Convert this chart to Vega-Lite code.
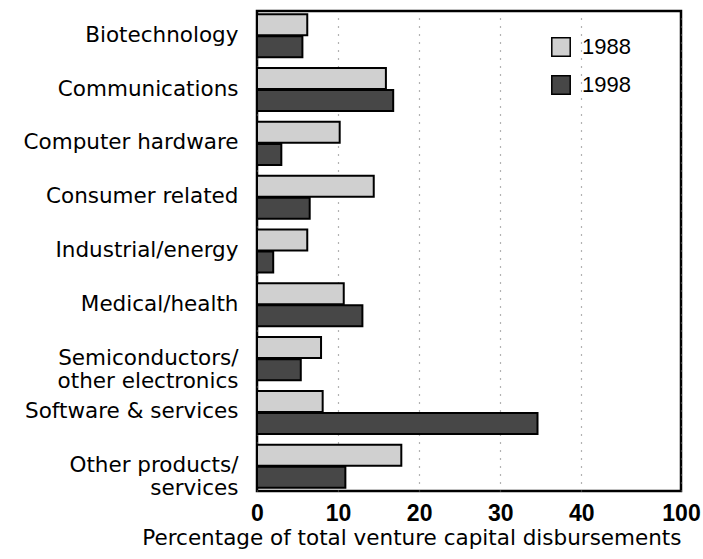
{
  "$schema": "https://vega.github.io/schema/vega-lite/v6.json",
  "width": 424,
  "height": 480,
  "padding": {"left": 23, "top": 11, "right": 2, "bottom": 5},
  "background": "white",
  "config": {
    "font": "DejaVu Sans",
    "view": {"stroke": "black", "strokeWidth": 2.5}
  },
  "data": {
    "values": [
      {"category": "Biotechnology", "year": "1988", "value": 6.2},
      {"category": "Biotechnology", "year": "1998", "value": 5.6},
      {"category": "Communications", "year": "1988", "value": 15.9},
      {"category": "Communications", "year": "1998", "value": 16.8},
      {"category": "Computer hardware", "year": "1988", "value": 10.2},
      {"category": "Computer hardware", "year": "1998", "value": 3.0},
      {"category": "Consumer related", "year": "1988", "value": 14.4},
      {"category": "Consumer related", "year": "1998", "value": 6.5},
      {"category": "Industrial/energy", "year": "1988", "value": 6.2},
      {"category": "Industrial/energy", "year": "1998", "value": 2.0},
      {"category": "Medical/health", "year": "1988", "value": 10.7},
      {"category": "Medical/health", "year": "1998", "value": 13.0},
      {"category": "Semiconductors/|other electronics", "year": "1988", "value": 7.9},
      {"category": "Semiconductors/|other electronics", "year": "1998", "value": 5.4},
      {"category": "Software & services", "year": "1988", "value": 8.1},
      {"category": "Software & services", "year": "1998", "value": 34.6},
      {"category": "Other products/|services", "year": "1988", "value": 17.8},
      {"category": "Other products/|services", "year": "1998", "value": 10.9}
    ]
  },
  "mark": {"type": "bar", "stroke": "black", "strokeWidth": 2},
  "encoding": {
    "y": {
      "field": "category",
      "type": "nominal",
      "sort": null,
      "scale": {"paddingInner": 0.2, "paddingOuter": 0.06},
      "axis": {
        "title": null,
        "ticks": false,
        "domain": false,
        "labelFontSize": 21.5,
        "labelColor": "black",
        "labelPadding": 19,
        "labelLineHeight": 23,
        "labelLimit": 300,
        "labelExpr": "split(datum.value, '|')"
      }
    },
    "yOffset": {"field": "year", "type": "nominal", "scale": {"paddingInner": 0.05}},
    "x": {
      "field": "value",
      "type": "quantitative",
      "scale": {"domain": [0, 52.3], "nice": false},
      "axis": {
        "values": [0, 10, 20, 30, 40, 52.3],
        "labelExpr": "datum.value > 45 ? '100' : datum.label",
        "title": "Percentage of total venture capital disbursements",
        "titleFont": "DejaVu Sans",
        "titleFontSize": 21.5,
        "titleFontWeight": "normal",
        "titleColor": "black",
        "titlePadding": 2,
        "titleAnchor": "end",
        "labelFont": "Liberation Sans",
        "labelFontSize": 23,
        "labelFontWeight": "bold",
        "labelColor": "black",
        "labelPadding": 11,
        "labelFlush": false,
        "ticks": false,
        "domain": false,
        "grid": true,
        "gridDash": [1, 7],
        "gridColor": "#666666",
        "gridWidth": 1.2
      }
    },
    "color": {
      "field": "year",
      "type": "nominal",
      "scale": {"domain": ["1988", "1998"], "range": ["#d0d0d0", "#474747"]},
      "legend": {
        "title": null,
        "orient": "none",
        "legendX": 293,
        "legendY": 25,
        "symbolType": "square",
        "symbolSize": 340,
        "symbolStrokeColor": "black",
        "symbolStrokeWidth": 1.5,
        "labelFont": "Liberation Sans",
        "labelFontSize": 22,
        "labelColor": "black",
        "rowPadding": 12,
        "labelOffset": 10
      }
    }
  }
}
